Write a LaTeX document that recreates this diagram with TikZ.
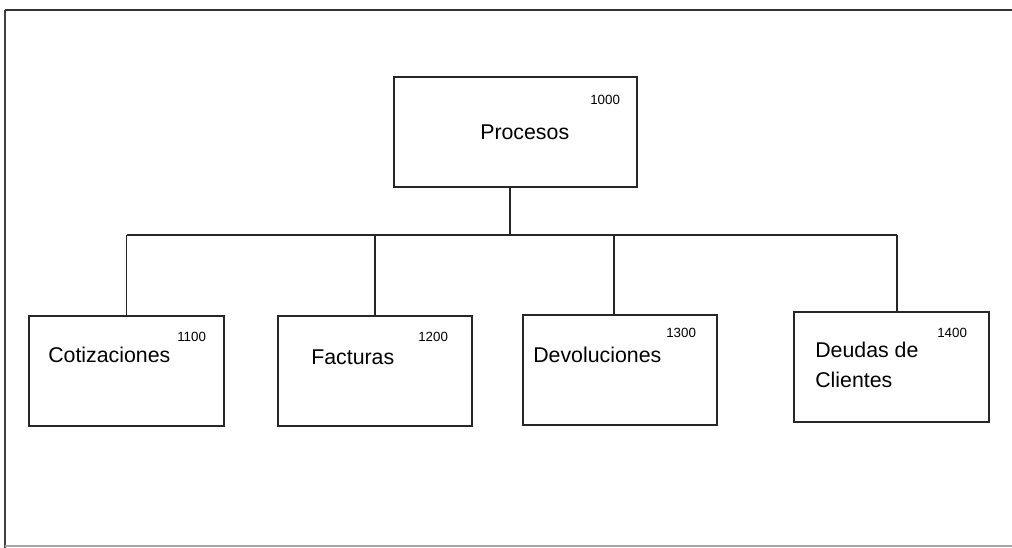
\documentclass[tikz,border=0pt]{standalone}
\usepackage{fontspec}
\setmainfont{Liberation Sans}
\begin{document}
\begin{tikzpicture}[x=0.75pt,y=-0.75pt,
  boxnode/.style={draw=black!85, line width=1.4pt, rectangle, inner sep=0pt,
    minimum width=146pt, minimum height=82.5pt},
  lbl/.style={inner sep=0pt, anchor=base west, font=\fontsize{16}{21.75}\selectfont, align=left},
  num/.style={inner sep=0pt, anchor=base west, font=\fontsize{10}{12}\selectfont},
  conn/.style={draw=black!85, line width=1.3pt}]
\useasboundingbox (0,0) rectangle (1012,548);
% frame
\draw[black!80, line width=2pt] (5,10) -- (1012,10);
\draw[black!75, line width=1.1pt] (5,10) -- (5,548);
\draw[black!35, line width=0.8pt] (5,546) -- (1012,546);
% boxes
\node[boxnode, minimum width=182pt] (p) at (515.5,132) {};
\node[boxnode] (c1) at (126.5,371) {};
\node[boxnode] (c2) at (375,371) {};
\node[boxnode] (c3) at (620,370) {};
\node[boxnode] (c4) at (891.5,367) {};
% texts
\node[lbl] (tp) at (480,140) {Procesos};
\node[num] (np) at (590,105) {1000};
\node[lbl] (t1) at (48,363) {Cotizaciones};
\node[num] (n1) at (177,342) {1100};
\node[lbl] (t2) at (311,364) {Facturas};
\node[num] (n2) at (418,342) {1200};
\node[lbl] (t3) at (533,363) {Devoluciones};
\node[num] (n3) at (666,338) {1300};
\node[lbl] (t4) at (815,387) {Deudas de\\Clientes};
\node[num] (n4) at (937,338) {1400};
% connectors
\coordinate (bus) at (0,235);
\coordinate (pd) at ([xshift=-4pt]p.south);
\coordinate (d3) at ([xshift=-4.5pt]c3.north);
\coordinate (d4) at ([xshift=4pt]c4.north);
\draw[conn] (pd) -- (pd |- bus);
\draw[conn] (c1.north |- bus) -- (d4 |- bus);
\draw[conn] (c1.north |- bus) -- (c1.north);
\draw[conn] (c2.north |- bus) -- (c2.north);
\draw[conn] (d3 |- bus) -- (d3);
\draw[conn] (d4 |- bus) -- (d4);
\end{tikzpicture}
\end{document}
